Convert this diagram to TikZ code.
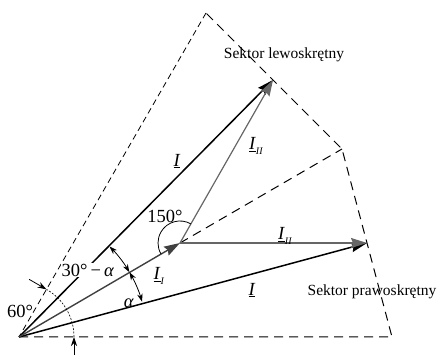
\documentclass[tikz,border=0pt]{standalone}
\usepackage{fontspec}
\setmainfont{Liberation Serif}
\usetikzlibrary{arrows.meta,calc}
\newcommand{\vecI}{\underline{\textit{I}}}
\newcommand{\vecIsub}[1]{\underline{\textit{I}}\raisebox{-0.5ex}{\fontsize{10}{10}\selectfont\textit{#1}}}
\begin{document}
\begin{tikzpicture}[x=1pt,y=1pt,
  lbl/.style={font=\fontsize{15.5}{18}\selectfont, inner sep=1pt},
  big/.style={font=\fontsize{18.5}{21}\selectfont, inner sep=1pt},
  sector/.style={line width=1pt, dash pattern=on 9pt off 6pt},
  vecblack/.style={line width=1.5pt, black, -{Stealth[length=16pt,width=10pt,inset=2pt]}},
  vecgrayI/.style={line width=1.4pt, black!75, -{Stealth[length=16pt,width=10pt,inset=2pt]}},
  vecgrayII/.style={line width=1.2pt, black!60, -{Stealth[length=16pt,width=10pt,inset=2pt]}},
  angarr/.style={line width=0.8pt, {Stealth[length=8pt,width=5.5pt]}-{Stealth[length=8pt,width=5.5pt]}},
  dimarr/.style={line width=0.8pt, -{Stealth[length=9pt,width=6pt]}}
]
\useasboundingbox (0,0) rectangle (439,355);
% key points
\coordinate (O) at (19,18);
\coordinate (A0) at (392,18);
\coordinate (A30) at (342,206);
\coordinate (A60) at (206,342);
\coordinate (P1) at (180,112);
\coordinate (P2) at (367,112);
\coordinate (P3) at (273,275);
% sector outline
\draw[sector] (O) -- (A0) -- (A30) -- (A60);
\draw[line width=0.8pt, dash pattern=on 6pt off 4pt] (A60) -- (O);
\draw[sector] (P1) -- (A30);
% vectors
\draw[vecblack] (O) -- (P3);
\draw[vecblack] (O) -- (P2);
\draw[vecgrayII] (P1) -- (P3);
\draw[vecgrayII] (P1) -- (P2);
\draw[vecgrayI] (O) -- (P1);
% 150 deg arc
\draw[line width=0.8pt] ($(P1)+(60:22)$) arc[start angle=60, end angle=210, radius=22];
% angle arcs alpha and 30-alpha
\draw[angarr] ($(O)+(16:128)$) arc[start angle=16, end angle=30.4, radius=128];
\draw[angarr] ($(O)+(30.4:128)$) arc[start angle=30.4, end angle=45, radius=128];
% 60 deg dimension
\draw[line width=0.6pt, dash pattern=on 2pt off 1.5pt] ($(O)+(0:55)$) arc[start angle=0, end angle=60, radius=55];
\coordinate (D0) at ($(O)+(0:55)$);
\coordinate (D60) at ($(O)+(60:55)$);
\coordinate (D0s) at ($(D0)+(0,-18)$);
\coordinate (D60s) at ($(D60)+(150:20)$);
\draw[dimarr] (D0s) -- (D0);
\draw[dimarr] (D60s) -- (D60);
% labels
\node[lbl] (tL) at (284,300) {Sektor lewoskrętny};
\node[lbl] (tR) at (372,63) {Sektor prawoskrętny};
\node[big] (t60) at (20,44) {60°};
\node[big, fill=white] (t30) at (88,85) {30°\,−\,\textit{α}};
\node[big] (ta) at (129,52) {\textit{α}};
\node[big] (t150) at (165,139) {150°};
\node[big] (tII) at (159,79) {\vecIsub{I}};
\node[big] (tIu) at (177,194) {\vecI};
\node[big] (tIIu) at (256,209) {\vecIsub{II}};
\node[big] (tIIl) at (285,119) {\vecIsub{II}};
\node[big] (tIl) at (252,65) {\vecI};
\end{tikzpicture}
\end{document}
